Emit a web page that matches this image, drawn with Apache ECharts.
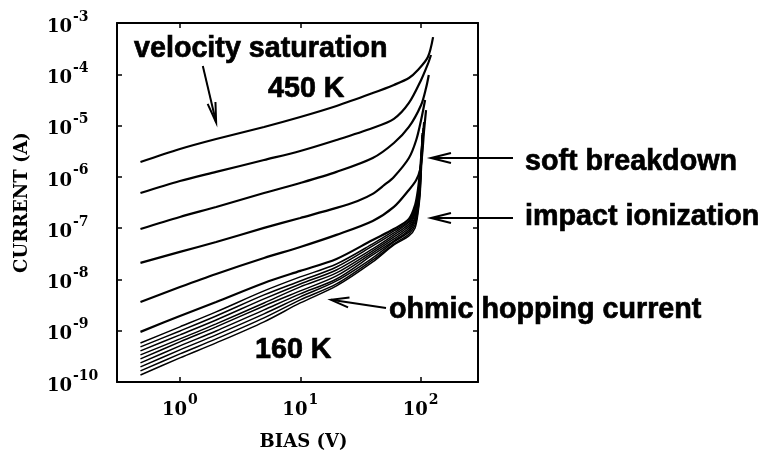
<!DOCTYPE html>
<html>
<head>
<meta charset="utf-8">
<script src="https://cdn.jsdelivr.net/npm/echarts@6/dist/echarts.min.js"></script>
<style>
  html, body { margin: 0; padding: 0; background: #fff; }
  #chart { width: 761px; height: 456px; }
</style>
</head>
<body>
<div id="chart"></div>
<script>
// Current-voltage curves, one per temperature, as [bias (V), current (A)] pairs.
const iv450K = [[0.47,1.95e-6],[1,3.5e-6],[2,5.48e-6],[5,9.4e-6],[10,1.47e-5],[20,2.41e-5],[40,4.3e-5],[60,6.2e-5],[80,8.47e-5],[95,1.21e-4],[115,2.17e-4],[127,5.3e-4]];
const ivT02 = [[0.47,4.85e-7],[1,8.3e-7],[2,1.25e-6],[5,2.13e-6],[10,3.2e-6],[20,5.24e-6],[40,8.97e-6],[60,1.35e-5],[80,2.76e-5],[101,7.74e-5],[115,1.59e-4],[122,2.38e-4]];
const ivT03 = [[0.47,9.6e-8],[1,1.65e-7],[2,2.59e-7],[5,4.85e-7],[10,7.6e-7],[20,1.25e-6],[40,2.33e-6],[60,4.58e-6],[80,9.4e-6],[101,2.52e-5],[111,5.4e-5],[117,9.7e-5]];
const ivT04 = [[0.47,2.1e-8],[1,3.44e-8],[2,5.38e-8],[5,1.01e-7],[10,1.58e-7],[20,2.48e-7],[30,3.39e-7],[40,4.65e-7],[50,6.95e-7],[60,9.95e-7],[80,2.33e-6],[92,5.24e-6],[101,1.29e-5],[109,3.16e-5]];
const ivT05 = [[0.47,3.64e-9],[1,7.1e-9],[2,1.28e-8],[5,2.62e-8],[10,4.3e-8],[20,7.4e-8],[40,1.38e-7],[60,2.59e-7],[80,5.56e-7],[92,8.71e-7],[99,1.36e-6],[103,2.67e-6],[107,8.2e-6],[111,2.01e-5]];
const ivT06 = [[0.47,9.5e-10],[1,1.94e-9],[2,3.64e-9],[5,8.55e-9],[10,1.47e-8],[20,2.51e-8],[40,5.89e-8],[60,9.6e-8],[80,1.51e-7],[90,2.83e-7],[95,5.56e-7],[99,1.36e-6],[103,4.19e-6],[107,1.17e-5]];
const ivT07 = [[0.47,5.76e-10],[1,1.19e-9],[2,2.33e-9],[5,5.97e-9],[10,1.12e-8],[20,2.0e-8],[40,4.93e-8],[60,8.8e-8],[80,1.38e-7],[90,2.48e-7],[95,4.86e-7],[99,1.19e-6],[105,8.98e-6]];
const ivT08 = [[0.47,4.83e-10],[1,9.9e-10],[2,1.94e-9],[5,4.99e-9],[10,9.35e-9],[20,1.75e-8],[40,4.5e-8],[60,8.07e-8],[80,1.32e-7],[90,2.26e-7],[95,4.44e-7],[99,1.04e-6],[105,8.2e-6]];
const ivT09 = [[0.47,4.04e-10],[1,8.3e-10],[2,1.62e-9],[5,4.17e-9],[10,8.17e-9],[20,1.53e-8],[40,3.93e-8],[60,7.37e-8],[80,1.21e-7],[90,2.07e-7],[95,4.06e-7],[99,9.5e-7],[103,7.18e-6]];
const ivT10 = [[0.47,3.38e-10],[1,6.92e-10],[2,1.36e-9],[5,3.48e-9],[10,7.16e-9],[20,1.34e-8],[40,3.6e-8],[60,6.74e-8],[80,1.10e-7],[90,1.89e-7],[95,3.55e-7],[99,8.34e-7],[103,6.56e-6]];
const ivT11 = [[0.47,2.82e-10],[1,6.06e-10],[2,1.19e-9],[5,3.04e-9],[10,5.97e-9],[20,1.17e-8],[40,3.29e-8],[60,6.16e-8],[80,1.01e-7],[90,1.65e-7],[95,3.24e-7],[99,7.27e-7],[103,6.0e-6]];
const ivT12 = [[0.47,2.36e-10],[1,5.06e-10],[2,9.9e-10],[5,2.55e-9],[10,5.22e-9],[20,1.02e-8],[40,3.0e-8],[60,5.63e-8],[80,9.22e-8],[90,1.51e-7],[95,2.83e-7],[99,6.66e-7],[103,5.73e-6]];
const ivT13 = [[0.47,1.97e-10],[1,4.22e-10],[2,8.3e-10],[5,2.13e-9],[10,4.56e-9],[20,9.35e-9],[40,2.63e-8],[60,5.38e-8],[80,8.44e-8],[90,1.32e-7],[95,2.48e-7],[99,5.81e-7],[103,5.24e-6]];
const ivT14 = [[0.47,1.65e-10],[1,3.53e-10],[2,6.92e-10],[5,1.78e-9],[10,3.99e-9],[20,8.17e-9],[40,2.4e-8],[60,4.93e-8],[80,7.71e-8],[90,1.15e-7],[95,2.16e-7],[99,5.08e-7],[103,4.79e-6]];
const iv160K = [[0.47,1.37e-10],[1,2.95e-10],[2,5.78e-10],[5,1.49e-9],[10,3.48e-9],[20,7.46e-9],[40,2.19e-8],[60,4.71e-8],[80,7.05e-8],[90,1.01e-7],[95,1.89e-7],[99,4.44e-7],[101,1.09e-6],[103,2.67e-6],[105,5.73e-6]];

const ivCurves = [iv450K, ivT02, ivT03, ivT04, ivT05, ivT06, ivT07, ivT08, ivT09, ivT10, ivT11, ivT12, ivT13, ivT14, iv160K];

// Axis ranges (log scales).
const biasRange = [0.3, 300];
const currentRange = [1e-10, 1e-3];

// Annotation arrows: [tail, tip] in data units (bias V, current A).
const arrowVelocity = [[1.55, 1.45e-4], [2.0, 1.15e-5]];
const arrowSoft = [[586, 2.33e-6], [122, 2.33e-6]];
const arrowImpact = [[586, 1.58e-7], [122, 1.58e-7]];
const arrowOhmic = [[51.6, 2.78e-9], [18, 4.0e-9]];

const serif = 'DejaVu Serif';
const sans = 'Liberation Sans';

function powerLabel(v) {
  const lg = Math.log10(v);
  const e = Math.round(lg);
  if (Math.abs(lg - e) > 1e-6) return '';
  return '{b|10}{e|' + (e < 0 ? '-' + (-e) : String(e)) + '}';
}
const powerRich = {
  b: { fontFamily: serif, fontWeight: 'bold', fontSize: 18, color: '#000', lineHeight: 26, verticalAlign: 'bottom' },
  e: { fontFamily: serif, fontWeight: 'bold', fontSize: 14, color: '#000', lineHeight: 9, verticalAlign: 'top', padding: [0, 0, 0, 1] }
};

const frameLine = { show: true, lineStyle: { color: '#000', width: 2 } };
const innerTick = { show: true, inside: true, length: 5, lineStyle: { color: '#000', width: 1.5 } };

const chart = echarts.init(document.getElementById('chart'), null, { renderer: 'canvas' });

chart.setOption({
  backgroundColor: '#fff',
  animation: false,
  grid: { left: 117, top: 23, width: 361, height: 359, containLabel: false },
  xAxis: [
    {
      type: 'log', logBase: 10, min: biasRange[0], max: biasRange[1], position: 'bottom',
      axisLine: frameLine, axisTick: innerTick, splitLine: { show: false },
      axisLabel: { formatter: powerLabel, rich: powerRich, margin: 11, showMinLabel: false, showMaxLabel: false },
      name: 'BIAS (V)', nameLocation: 'middle', nameGap: 51,
      nameTextStyle: { fontFamily: serif, fontWeight: 'bold', fontSize: 18, color: '#000', padding: [0, 0, 0, 12] }
    },
    {
      type: 'log', logBase: 10, min: biasRange[0], max: biasRange[1], position: 'top',
      axisLine: frameLine, axisTick: innerTick, splitLine: { show: false }, axisLabel: { show: false }
    }
  ],
  yAxis: [
    {
      type: 'log', logBase: 10, min: currentRange[0], max: currentRange[1], position: 'left',
      axisLine: frameLine, axisTick: innerTick, splitLine: { show: false },
      axisLabel: { formatter: powerLabel, rich: powerRich, margin: 70, align: 'left' },
      name: 'CURRENT (A)', nameLocation: 'middle', nameGap: 86,
      nameTextStyle: { fontFamily: serif, fontWeight: 'bold', fontSize: 18, color: '#000' }
    },
    {
      type: 'log', logBase: 10, min: currentRange[0], max: currentRange[1], position: 'right',
      axisLine: frameLine, axisTick: innerTick, splitLine: { show: false }, axisLabel: { show: false }
    }
  ],
  series: ivCurves.map((curve, i) => ({
    type: 'line',
    data: curve,
    xAxisIndex: 0,
    yAxisIndex: 0,
    showSymbol: false,
    symbol: 'none',
    smooth: 0.3,
    clip: true,
    lineStyle: { color: '#000', width: i < 6 ? 2.2 : 1.5 }
  }))
});

// Arrows and text annotations.
function px(p) { return chart.convertToPixel({ xAxisIndex: 0, yAxisIndex: 0 }, p); }
function arrow(pair, head, half) {
  const tail = px(pair[0]);
  const tip = px(pair[1]);
  const dx = tip[0] - tail[0], dy = tip[1] - tail[1];
  const L = Math.hypot(dx, dy);
  const ux = dx / L, uy = dy / L;
  const bx = tip[0] - ux * head, by = tip[1] - uy * head;
  return [
    { type: 'line', shape: { x1: tail[0], y1: tail[1], x2: tip[0], y2: tip[1] }, style: { stroke: '#000', lineWidth: 2 } },
    { type: 'polyline', shape: { points: [[bx - uy * half, by + ux * half], tip, [bx + uy * half, by - ux * half]] },
      style: { stroke: '#000', lineWidth: 2, fill: null } }
  ];
}
function label(text, x, y) {
  return { type: 'text', x: x, y: y,
    style: { text: text, fill: '#000', stroke: '#000', lineWidth: 0.7,
             fontFamily: sans, fontWeight: 'bold', fontSize: 28.7,
             align: 'left', verticalAlign: 'top', textAlign: 'left', textVerticalAlign: 'top' } };
}

chart.setOption({
  graphic: [].concat(
    arrow(arrowVelocity, 20, 4),
    arrow(arrowSoft, 20, 5),
    arrow(arrowImpact, 20, 5),
    arrow(arrowOhmic, 18, 5),
    [
      label('velocity saturation', 134, 35),
      label('450 K', 268, 75),
      label('soft breakdown', 525, 148),
      label('impact ionization', 525, 203),
      label('ohmic hopping current', 389, 296),
      label('160 K', 255, 336)
    ]
  )
});
</script>
</body>
</html>
